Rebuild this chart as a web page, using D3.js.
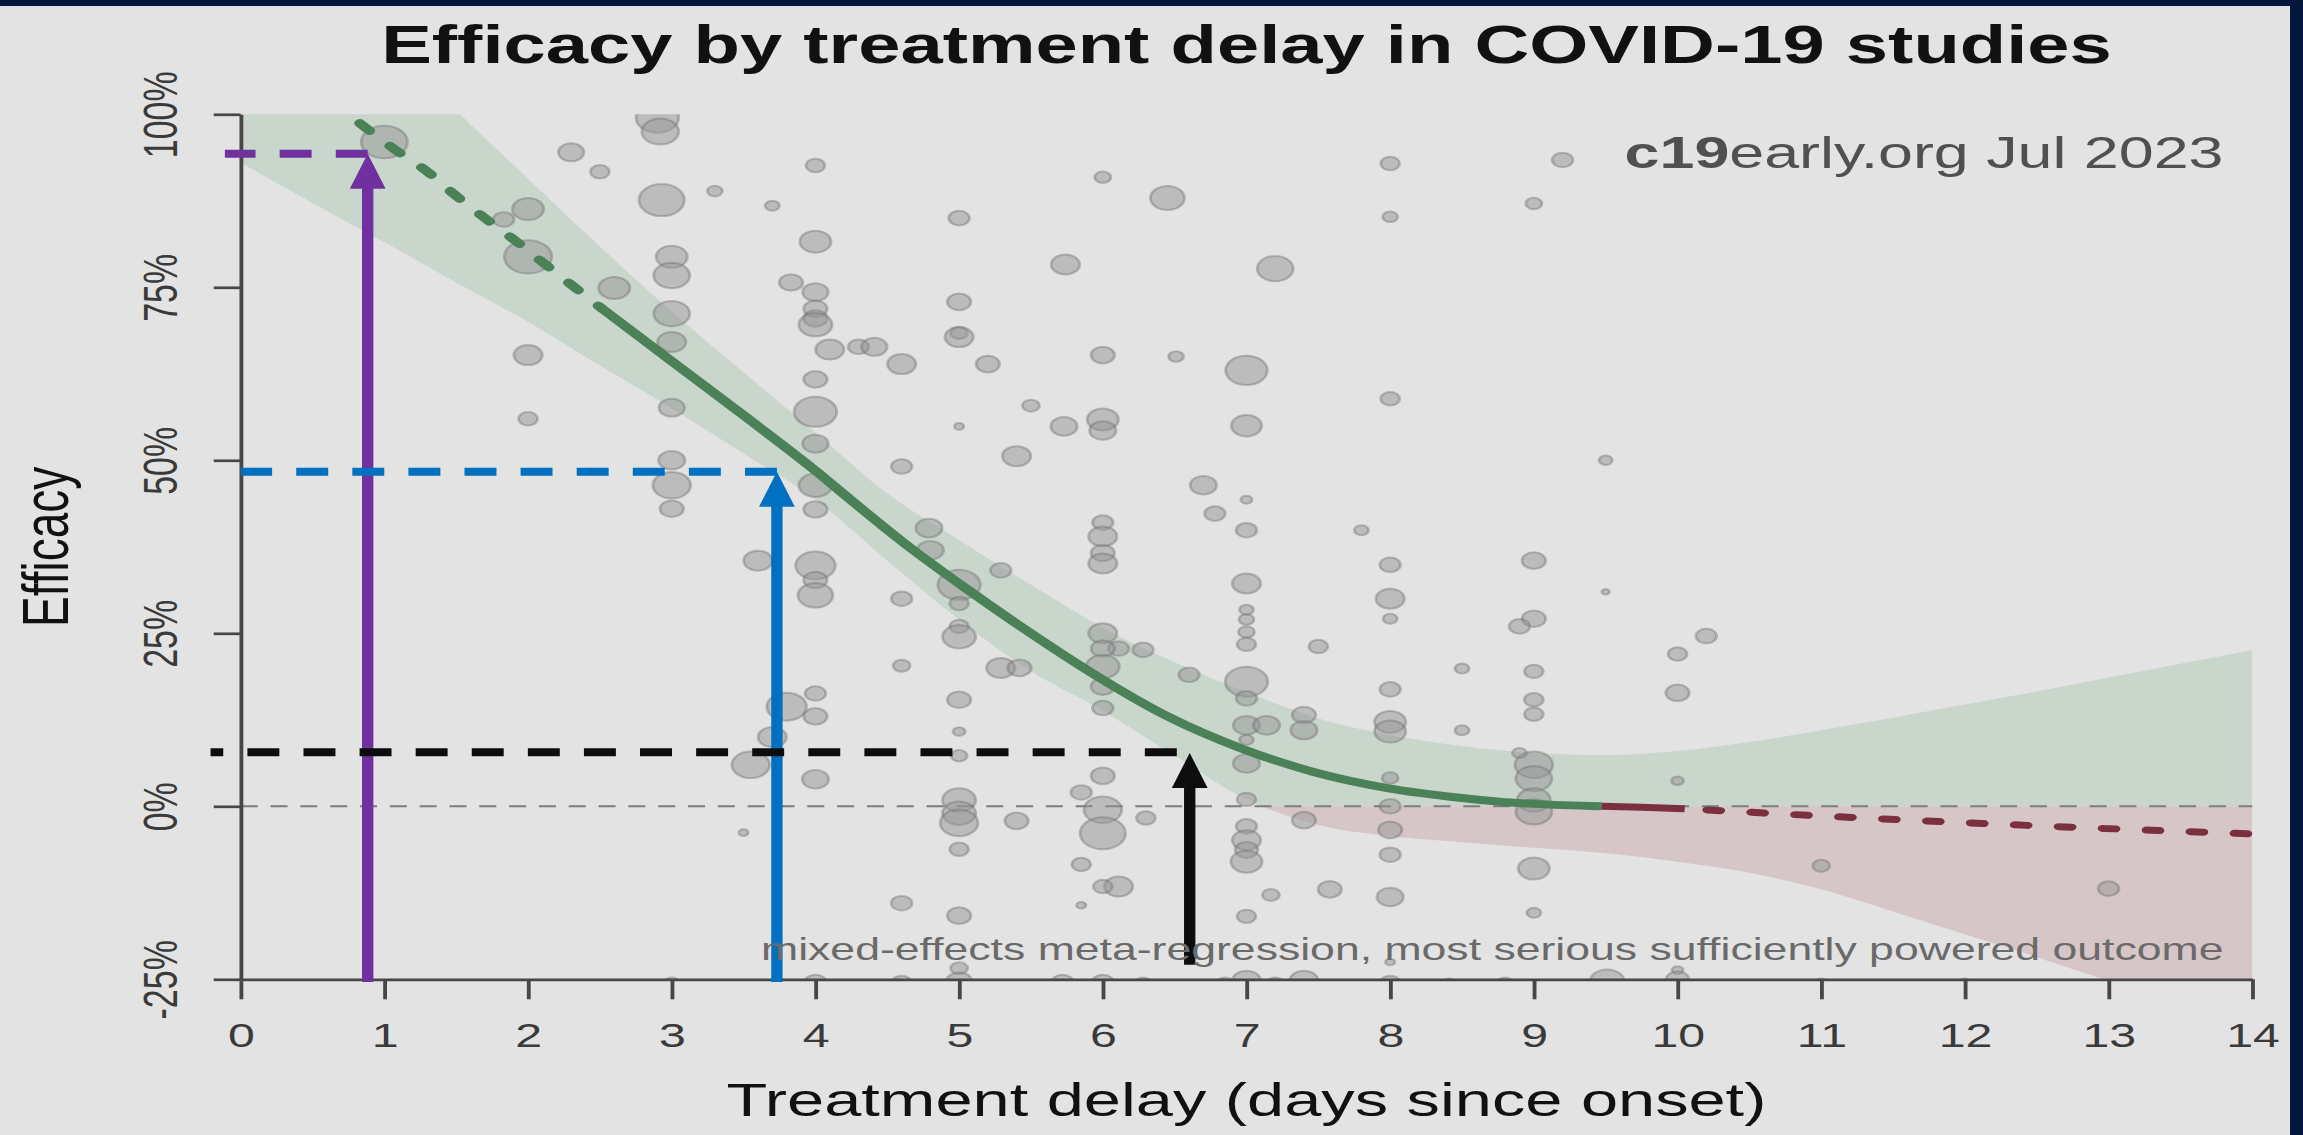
<!DOCTYPE html>
<html>
<head>
<meta charset="utf-8">
<script src="https://cdn.jsdelivr.net/npm/d3@7"></script>
<style>
  html, body { margin: 0; padding: 0; background: #e3e3e3; }
  svg { display: block; }
  text { font-family: "Liberation Sans", Arial, sans-serif; }
</style>
</head>
<body>
<script>
var svgWidth = 2303;
var svgHeight = 1135;

// the original R plot is stretched sideways, so draw in native units and let the viewBox stretch it
var stretch = 1.42;
var nativeWidth = svgWidth / stretch;

// ---- data ----
var xTicks = d3.range(0, 15);
var yTicks = [-25, 0, 25, 50, 75, 100];

// fitted curve: extrapolated (dashed), fitted (solid), negative tail (red)
var fitEarly = [[0.83, 98.7], [1.08, 94.8], [1.30, 91.7], [1.50, 88.2], [1.70, 85.0], [1.92, 81.6],
  [2.12, 78.3], [2.33, 74.9], [2.51, 72.0]];
var fitMain = [[2.51, 72.0], [3.0, 64.3], [3.5, 56.5], [4.0, 48.5], [4.25, 44.2], [4.62, 38.0],
  [5.04, 31.6], [5.5, 25.0], [6.0, 18.3], [6.46, 12.9], [6.96, 8.4], [7.46, 5.0], [7.99, 2.6],
  [8.5, 1.2], [8.76, 0.66], [9.0, 0.35], [9.47, 0.0]];
var fitTailSolid = [[9.47, 0.0], [9.75, -0.15], [10.05, -0.35]];
var fitTail = [[10.05, -0.35], [11.1, -1.5], [12.03, -2.4], [12.97, -3.2], [14.0, -4.0]];

// confidence band
var bandDelay = [0, 0.5, 1, 1.5, 2, 2.5, 3, 3.5, 4, 4.5, 5, 5.5, 6, 6.5, 7, 7.5, 8, 8.5, 9, 9.5,
  10, 10.5, 11, 11.5, 12, 12.5, 13, 13.5, 14];
var bandUpper = [128, 120, 112, 100.6, 90.7, 80.9, 71.5, 62.7, 54.0, 45.2, 38.5, 32.0, 25.8, 20.8,
  16.5, 12.7, 10.3, 8.7, 7.7, 7.4, 8.0, 9.3, 11.0, 12.8, 14.7, 16.6, 18.6, 20.6, 22.6];
var bandLower = [93.0, 87.2, 81.5, 75.7, 70.0, 63.7, 57.5, 51.0, 44.3, 35.5, 27.0, 19.5, 13.8, 7.3,
  1.0, -2.7, -4.3, -5.2, -6.0, -6.8, -8.0, -9.6, -12.0, -15.2, -18.5, -21.8, -25.2, -28.5, -32.0];

// studies: [treatment delay (days), efficacy (%), weight]
var studies = [
  [1.00, 96.0, 16.3], [2.90, 99.5, 15], [2.92, 97.5, 13], [2.30, 94.5, 9], [2.50, 91.7, 6.7],
  [3.30, 88.9, 5.3], [2.93, 87.6, 16], [3.70, 86.8, 5], [4.00, 92.6, 6.7], [2.00, 86.3, 11],
  [1.83, 84.8, 7.3], [2.00, 79.4, 16.7], [3.00, 79.4, 11], [3.00, 76.7, 12.7], [2.60, 74.9, 11],
  [3.00, 71.2, 12.7], [3.00, 67.1, 10], [4.00, 81.6, 11], [3.83, 75.7, 8.3], [4.00, 74.3, 9],
  [4.00, 71.9, 8.3], [4.00, 70.5, 8.3], [4.00, 69.6, 11.7], [4.10, 66.0, 10], [2.00, 65.2, 10],
  [4.00, 61.7, 8.3], [4.00, 57.0, 15], [3.00, 57.6, 9], [4.00, 52.4, 9], [2.00, 56.0, 6.7],
  [3.00, 50.0, 9.3], [3.00, 46.4, 13.3], [3.00, 43.0, 8.3], [4.00, 46.4, 11.7], [4.00, 42.9, 8.3],
  [4.30, 66.4, 7.3], [4.41, 66.4, 9], [4.60, 63.9, 10], [4.60, 49.1, 7.3], [4.79, 40.2, 9.3],
  [5.00, 85.0, 7.3], [5.00, 72.9, 8.3], [5.00, 68.4, 6], [5.00, 67.8, 10], [5.20, 63.9, 8.3],
  [5.00, 54.9, 3.3], [5.40, 50.6, 10], [5.50, 57.9, 6], [5.73, 54.9, 9.3], [6.00, 55.9, 11],
  [6.00, 54.3, 9.3], [5.74, 78.3, 10], [6.00, 90.9, 5.7], [6.45, 87.9, 12], [6.00, 65.2, 8.3],
  [6.51, 65.0, 5.3], [7.20, 77.7, 12.7], [7.00, 63.0, 14.7], [7.00, 55.0, 10.7], [6.70, 46.4, 9.3],
  [6.78, 42.3, 7.3], [7.00, 44.3, 4], [7.00, 39.9, 7.3], [6.00, 41.0, 7.3], [6.00, 39.0, 10],
  [7.80, 39.9, 5], [8.00, 92.9, 6.7], [8.00, 85.2, 5.3], [8.00, 58.9, 6.7],
  [9.20, 93.4, 7.3], [9.00, 87.1, 5.7], [9.50, 50.0, 4.7],
  [3.60, 35.5, 10], [4.00, 34.8, 14], [4.00, 32.7, 8.3], [4.00, 30.5, 12.3], [4.00, 16.3, 7.3],
  [3.80, 14.4, 14], [4.00, 13.0, 8.3], [3.70, 10.0, 10], [3.55, 6.0, 13.3], [4.00, 3.9, 9.3],
  [3.50, -3.8, 3.3],
  [4.80, 37.0, 9.3], [5.00, 32.0, 15], [5.00, 29.3, 6.7], [5.29, 34.1, 7.3], [4.60, 30.0, 7.3],
  [6.00, 36.6, 8.3], [6.00, 35.1, 10], [7.00, 32.2, 10], [7.00, 28.4, 5], [7.00, 27.0, 5.3],
  [7.00, 25.2, 5.7], [7.00, 23.4, 6.7], [7.50, 23.1, 6.7], [8.00, 34.9, 7.3], [8.00, 30.0, 10],
  [8.00, 27.1, 5], [8.50, 19.9, 5], [8.50, 11.0, 5], [8.00, 16.9, 7.3], [8.00, 12.2, 11],
  [8.00, 10.8, 11], [8.00, 4.1, 5.7], [8.00, 0.0, 7.3], [8.00, -3.4, 8.3], [8.00, -7.0, 7.3],
  [8.00, -13.1, 9.3], [7.40, 13.2, 8.3], [7.40, 11.0, 9.3], [7.00, 18.0, 15], [7.00, 15.6, 7.3],
  [7.00, 11.7, 9.3], [7.14, 11.7, 9.3], [7.00, 9.6, 5], [7.00, 6.2, 9.3], [7.00, 1.0, 6.7],
  [6.60, 19.0, 7.3], [6.28, 22.6, 7.3], [6.11, 22.8, 7.3], [6.00, 25.0, 10], [6.00, 22.8, 8.3],
  [6.00, 20.2, 11.7], [6.00, 17.3, 8.3], [6.00, 14.2, 7.3], [5.00, 26.0, 6.7], [5.00, 24.5, 11.7],
  [4.60, 20.3, 6], [5.29, 20.0, 10], [5.42, 20.0, 8.3], [5.00, 15.4, 8.3], [5.00, 10.8, 4.3],
  [5.00, 7.3, 5.7], [6.00, 4.4, 8.3], [5.85, 2.0, 7.3], [6.00, -0.5, 13.3], [6.00, -3.9, 16],
  [6.30, -1.7, 6.7], [5.00, 0.9, 11.7], [5.00, -1.0, 11.7], [5.00, -2.4, 13.3], [5.00, -6.2, 6.7],
  [5.40, -2.1, 8.3], [5.85, -8.4, 6.7], [6.11, -11.6, 10], [6.00, -11.6, 6.7], [5.85, -14.3, 3.3],
  [4.60, -14.0, 7.3], [5.00, -15.8, 8.3], [7.00, -2.9, 7.3], [7.00, -4.9, 10], [7.00, -6.3, 8],
  [7.00, -8.0, 11], [7.00, -15.9, 6.7], [7.17, -12.8, 6], [7.58, -12.0, 8.3], [7.40, -2.0, 8.3],
  [5.00, -23.4, 6], [8.00, -22.5, 3.3],
  [9.00, 35.5, 8.3], [9.50, 31.0, 2.7], [9.00, 27.1, 8.3], [8.90, 26.0, 7.3], [9.00, 19.5, 6.7],
  [9.00, 15.4, 6.7], [9.00, 13.3, 6.7], [9.00, 6.0, 13.3], [9.00, 4.0, 12.7], [9.00, 0.9, 11.7],
  [9.00, -0.8, 12.7], [8.90, 7.7, 5], [9.00, -9.0, 11], [9.00, -15.4, 5], [10.00, 22.0, 6.7],
  [10.20, 24.6, 7.3], [10.00, 16.4, 8.3], [10.00, 3.7, 4.3], [11.00, -8.6, 6], [13.00, -11.9, 7.3],
  [10.00, -23.7, 4],
  // below the axis, only the tops show
  [3.00, -25.6, 6], [4.00, -25.5, 8], [4.60, -25.5, 7], [5.00, -25.3, 9], [5.72, -25.5, 8],
  [6.00, -25.5, 8], [6.28, -25.6, 6], [6.85, -25.6, 6], [7.00, -25.2, 10], [7.20, -25.6, 6],
  [7.40, -25.2, 10], [8.00, -25.5, 7], [8.41, -25.6, 5], [8.80, -25.6, 6], [9.51, -25.3, 12],
  [10.00, -25.0, 8], [11.00, -25.6, 5], [12.00, -25.6, 5]
];

// hand drawn markers: purple, blue, black
var markerDelay = [0.884, 3.732, 6.605];
var markerEfficacy = [94.3, 48.35, 7.7];
var guideFrom = [-0.11, 0, -0.21];
var guideTo = [0.884, 3.732, 6.515];
var guideEfficacy = [94.3, 48.35, 7.8];
var markerBottom = [-25.4, -25.4, -22.9];
var markerColors = ["#7030a0", "#0070c0", "#0d0d0d"];

// ---- chart ----
var outer = d3.select("body")
  .append("svg")
  .attr("width", svgWidth)
  .attr("height", svgHeight);

var svg = outer.append("svg")
  .attr("width", svgWidth)
  .attr("height", svgHeight)
  .attr("viewBox", "0 0 " + nativeWidth + " " + svgHeight)
  .attr("preserveAspectRatio", "none");

svg.append("rect")
  .attr("width", nativeWidth)
  .attr("height", svgHeight)
  .attr("fill", "#e3e3e3");

var x = d3.scaleLinear().domain([0, 14]).range([169.5, 1586.1]);
var y = d3.scaleLinear().domain([-25, 100]).range([979.3, 114.3]);
var r = d3.scaleLinear().domain([0, 16]).range([0, 16]);

var defs = svg.append("defs");
defs.append("clipPath").attr("id", "plot")
  .append("rect")
  .attr("x", x(0)).attr("y", y(100))
  .attr("width", x(14) - x(0)).attr("height", y(-25) - y(100));
defs.append("clipPath").attr("id", "above")
  .append("rect")
  .attr("x", x(0)).attr("y", y(100))
  .attr("width", x(14) - x(0)).attr("height", y(0) - y(100));
defs.append("clipPath").attr("id", "below")
  .append("rect")
  .attr("x", x(0)).attr("y", y(0))
  .attr("width", x(14) - x(0)).attr("height", y(-25) - y(0));

// confidence band, green above zero and red below
var bandData = bandDelay.map(function(d, i) { return [d, bandUpper[i], bandLower[i]]; });
var band = d3.area()
  .x(function(d) { return x(d[0]); })
  .y0(function(d) { return y(d[2]); })
  .y1(function(d) { return y(d[1]); })
  .curve(d3.curveMonotoneX);

svg.append("path")
  .datum(bandData)
  .attr("clip-path", "url(#above)")
  .attr("fill", "#c9d6cc")
  .attr("d", band);

svg.append("path")
  .datum(bandData)
  .attr("clip-path", "url(#below)")
  .attr("fill", "#d6c6c8")
  .attr("d", band);

// zero line
svg.append("line")
  .attr("x1", x(0)).attr("x2", x(14))
  .attr("y1", y(0)).attr("y2", y(0))
  .attr("stroke", "#7d7d7d")
  .attr("stroke-width", 2)
  .attr("stroke-dasharray", "12 9");

// studies
svg.append("g")
  .attr("clip-path", "url(#plot)")
  .selectAll("circle")
  .data(studies)
  .enter().append("circle")
    .attr("cx", function(d) { return x(d[0]); })
    .attr("cy", function(d) { return y(d[1]); })
    .attr("r", function(d) { return r(d[2]); })
    .attr("fill", "rgba(150,150,150,0.5)")
    .attr("stroke", "rgba(110,110,110,0.4)")
    .attr("stroke-width", 2);

// fitted curve
var fitLine = d3.line()
  .x(function(d) { return x(d[0]); })
  .y(function(d) { return y(d[1]); })
  .curve(d3.curveMonotoneX);

svg.append("path")
  .datum(fitEarly)
  .attr("fill", "none")
  .attr("stroke", "#4b8157")
  .attr("stroke-width", 8)
  .attr("stroke-linecap", "round")
  .attr("stroke-dasharray", "10 21")
  .attr("d", fitLine);

svg.append("path")
  .datum(fitMain)
  .attr("fill", "none")
  .attr("stroke", "#4b8157")
  .attr("stroke-width", 8)
  .attr("d", fitLine);

svg.append("path")
  .datum(fitTailSolid)
  .attr("fill", "none")
  .attr("stroke", "#7b3040")
  .attr("stroke-width", 7)
  .attr("d", fitLine);

svg.append("path")
  .datum(fitTail)
  .attr("fill", "none")
  .attr("stroke", "#7b3040")
  .attr("stroke-width", 7)
  .attr("stroke-linecap", "round")
  .attr("stroke-dasharray", "9 22")
  .attr("stroke-dashoffset", 15)
  .attr("d", fitLine);

// axes
var leftAxis = d3.axisLeft(y)
  .tickValues(yTicks)
  .tickFormat(function(d) { return d + "%"; })
  .tickSize(19)
  .tickSizeOuter(0);

var bottomAxis = d3.axisBottom(x)
  .tickValues(xTicks)
  .tickSize(20)
  .tickSizeOuter(0);

var yAxisG = svg.append("g")
  .attr("transform", "translate(" + x(0) + ",0)")
  .call(leftAxis);

yAxisG.selectAll("text")
  .attr("transform", "rotate(-90)")
  .attr("x", 0)
  .attr("y", -45.1)
  .attr("dy", 0)
  .attr("text-anchor", "middle");

var xAxisG = svg.append("g")
  .attr("transform", "translate(0," + y(-25) + ")")
  .call(bottomAxis);

xAxisG.selectAll("text")
  .attr("y", 67.7)
  .attr("dy", 0);

svg.selectAll(".domain, .tick line")
  .attr("stroke", "#474747")
  .attr("stroke-width", 2.7);

svg.selectAll(".tick text")
  .attr("fill", "#3a3a3a")
  .attr("font-size", 34)
  .attr("font-family", "Liberation Sans, Arial, sans-serif");

// hand drawn guides and arrows
markerDelay.forEach(function(d, i) {
  var col = markerColors[i];
  // dashes start at the arrow and run left
  svg.append("line")
    .attr("x1", x(guideTo[i])).attr("x2", x(guideFrom[i]))
    .attr("y1", y(guideEfficacy[i])).attr("y2", y(guideEfficacy[i]))
    .attr("stroke", col)
    .attr("stroke-width", 8)
    .attr("stroke-dasharray", "22.5 17");

  var tipY = y(markerEfficacy[i]);
  svg.append("line")
    .attr("x1", x(d)).attr("x2", x(d))
    .attr("y1", y(markerBottom[i])).attr("y2", tipY + 30)
    .attr("stroke", col)
    .attr("stroke-width", 8);

  svg.append("path")
    .attr("d", "M" + x(d) + "," + tipY +
      "L" + (x(d) + 12.6) + "," + (tipY + 35) +
      "L" + (x(d) - 12.6) + "," + (tipY + 35) + "Z")
    .attr("fill", col);
});

// texts
svg.append("text")
  .attr("x", (x(0) + x(14)) / 2)
  .attr("y", 63)
  .attr("text-anchor", "middle")
  .attr("font-size", 53.5)
  .attr("font-weight", "bold")
  .attr("fill", "#111")
  .text("Efficacy by treatment delay in COVID-19 studies");

var stamp = svg.append("text")
  .attr("x", 1565.8)
  .attr("y", 168)
  .attr("text-anchor", "end")
  .attr("font-size", 44.2)
  .attr("fill", "#505050");
stamp.append("tspan").attr("font-weight", "bold").text("c19");
stamp.append("tspan").text("early.org Jul 2023");

svg.append("text")
  .attr("x", 1565.8)
  .attr("y", 960)
  .attr("text-anchor", "end")
  .attr("font-size", 31.4)
  .attr("fill", "#6a6a6a")
  .text("mixed-effects meta-regression, most serious sufficiently powered outcome");

svg.append("text")
  .attr("x", (x(0) + x(14)) / 2)
  .attr("y", 1116)
  .attr("text-anchor", "middle")
  .attr("font-size", 47)
  .attr("fill", "#111")
  .text("Treatment delay (days since onset)");

svg.append("text")
  .attr("transform", "translate(48," + y(37.5) + ") rotate(-90)")
  .attr("text-anchor", "middle")
  .attr("font-size", 46)
  .attr("fill", "#111")
  .text("Efficacy");

// slide frame
svg.append("rect")
  .attr("x", 0).attr("y", 0)
  .attr("width", nativeWidth).attr("height", 6)
  .attr("fill", "#02163e");
svg.append("rect")
  .attr("x", 1612.7).attr("y", 0)
  .attr("width", nativeWidth - 1612.7).attr("height", svgHeight)
  .attr("fill", "#02163e");
</script>
</body>
</html>
